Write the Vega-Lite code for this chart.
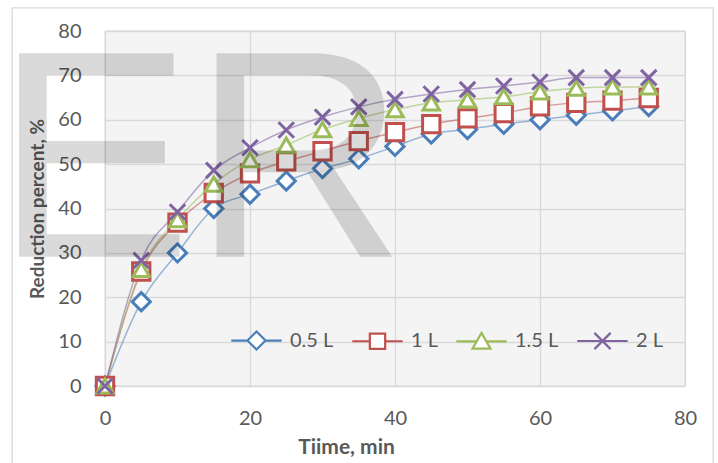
{
  "$schema": "https://vega.github.io/schema/vega-lite/v6.json",
  "width": 580,
  "height": 355,
  "autosize": "none",
  "padding": {"left": 105, "top": 31, "right": 33, "bottom": 77},
  "background": "white",
  "config": {
    "font": "Lato",
    "view": {"fill": "#f4f4f4", "stroke": "#d9d9d9", "strokeWidth": 1.3},
    "axis": {
      "domain": false,
      "ticks": false,
      "labelFlush": false,
      "gridColor": "#d9d9d9",
      "gridWidth": 1.3,
      "labelFont": "Lato",
      "labelFontSize": 20,
      "labelColor": "#595959",
      "titleFont": "Lato",
      "titleFontWeight": "bold",
      "titleColor": "#595959"
    },
    "legend": {
      "orient": "none",
      "direction": "horizontal",
      "legendX": 141,
      "legendY": 299,
      "labelFont": "Lato",
      "labelFontSize": 20,
      "labelColor": "#595959",
      "symbolSize": 324,
      "symbolStrokeWidth": 2.2,
      "symbolOpacity": 1,
      "labelOffset": 23,
      "columnPadding": 13,
      "padding": 0
    }
  },
  "data": {
    "values": [
      {"t": 0, "series": "0.5 L", "r": 0},
      {"t": 5, "series": "0.5 L", "r": 19},
      {"t": 10, "series": "0.5 L", "r": 30},
      {"t": 15, "series": "0.5 L", "r": 40},
      {"t": 20, "series": "0.5 L", "r": 43.2},
      {"t": 25, "series": "0.5 L", "r": 46.2},
      {"t": 30, "series": "0.5 L", "r": 49},
      {"t": 35, "series": "0.5 L", "r": 51.2},
      {"t": 40, "series": "0.5 L", "r": 54},
      {"t": 45, "series": "0.5 L", "r": 56.8},
      {"t": 50, "series": "0.5 L", "r": 57.8},
      {"t": 55, "series": "0.5 L", "r": 59},
      {"t": 60, "series": "0.5 L", "r": 60},
      {"t": 65, "series": "0.5 L", "r": 61},
      {"t": 70, "series": "0.5 L", "r": 62},
      {"t": 75, "series": "0.5 L", "r": 63},
      {"t": 0, "series": "1 L", "r": 0},
      {"t": 5, "series": "1 L", "r": 25.8},
      {"t": 10, "series": "1 L", "r": 36.8},
      {"t": 15, "series": "1 L", "r": 43.5},
      {"t": 20, "series": "1 L", "r": 47.9},
      {"t": 25, "series": "1 L", "r": 50.6},
      {"t": 30, "series": "1 L", "r": 52.9},
      {"t": 35, "series": "1 L", "r": 55.2},
      {"t": 40, "series": "1 L", "r": 57.2},
      {"t": 45, "series": "1 L", "r": 59},
      {"t": 50, "series": "1 L", "r": 60.3},
      {"t": 55, "series": "1 L", "r": 61.5},
      {"t": 60, "series": "1 L", "r": 63},
      {"t": 65, "series": "1 L", "r": 63.8},
      {"t": 70, "series": "1 L", "r": 64.3},
      {"t": 75, "series": "1 L", "r": 64.9},
      {"t": 0, "series": "1.5 L", "r": 0},
      {"t": 5, "series": "1.5 L", "r": 26.3},
      {"t": 10, "series": "1.5 L", "r": 37.5},
      {"t": 15, "series": "1.5 L", "r": 45.5},
      {"t": 20, "series": "1.5 L", "r": 51},
      {"t": 25, "series": "1.5 L", "r": 54.3},
      {"t": 30, "series": "1.5 L", "r": 57.8},
      {"t": 35, "series": "1.5 L", "r": 60.3},
      {"t": 40, "series": "1.5 L", "r": 62.3},
      {"t": 45, "series": "1.5 L", "r": 63.8},
      {"t": 50, "series": "1.5 L", "r": 64.5},
      {"t": 55, "series": "1.5 L", "r": 65.2},
      {"t": 60, "series": "1.5 L", "r": 66.3},
      {"t": 65, "series": "1.5 L", "r": 67.1},
      {"t": 70, "series": "1.5 L", "r": 67.4},
      {"t": 75, "series": "1.5 L", "r": 67.4},
      {"t": 0, "series": "2 L", "r": 0},
      {"t": 5, "series": "2 L", "r": 28.3},
      {"t": 10, "series": "2 L", "r": 39.2},
      {"t": 15, "series": "2 L", "r": 48.6},
      {"t": 20, "series": "2 L", "r": 53.7},
      {"t": 25, "series": "2 L", "r": 57.7},
      {"t": 30, "series": "2 L", "r": 60.6},
      {"t": 35, "series": "2 L", "r": 62.9},
      {"t": 40, "series": "2 L", "r": 64.6},
      {"t": 45, "series": "2 L", "r": 65.8},
      {"t": 50, "series": "2 L", "r": 66.8},
      {"t": 55, "series": "2 L", "r": 67.6},
      {"t": 60, "series": "2 L", "r": 68.5},
      {"t": 65, "series": "2 L", "r": 69.5},
      {"t": 70, "series": "2 L", "r": 69.5},
      {"t": 75, "series": "2 L", "r": 69.5}
    ]
  },
  "layer": [
    {
      "mark": {"type": "line", "interpolate": "monotone", "strokeWidth": 1.5, "opacity": 0.55},
      "encoding": {
        "x": {"field": "t", "type": "quantitative", "scale": {"domain": [0, 80], "nice": false, "zero": false},
              "axis": {"values": [0, 20, 40, 60, 80], "title": "Tiime, min", "titleFontSize": 21, "labelPadding": 22, "titlePadding": 8, "titleX": 241}},
        "y": {"field": "r", "type": "quantitative", "scale": {"domain": [0, 80], "nice": false, "zero": false},
              "axis": {"values": [0, 10, 20, 30, 40, 50, 60, 70, 80], "title": "Reduction percent, %", "titleFontSize": 19, "labelPadding": 24, "titlePadding": 10}},
        "color": {"field": "series", "type": "nominal", "legend": null,
                  "scale": {"domain": ["0.5 L", "1 L", "1.5 L", "2 L"], "range": ["#4a7ebb", "#c0504d", "#9bbb59", "#8064a2"]}},
        "detail": {"field": "series"}
      }
    },
    {
      "mark": {"type": "point", "filled": false, "fill": "white", "strokeWidth": 3, "opacity": 1},
      "encoding": {
        "x": {"field": "t", "type": "quantitative",
              "axis": {"values": [0, 20, 40, 60, 80], "title": "Tiime, min", "titleFontSize": 21, "labelPadding": 22, "titlePadding": 8, "titleX": 241}},
        "y": {"field": "r", "type": "quantitative",
              "axis": {"values": [0, 10, 20, 30, 40, 50, 60, 70, 80], "title": "Reduction percent, %", "titleFontSize": 19, "labelPadding": 24, "titlePadding": 10}},
        "color": {"field": "series", "type": "nominal", "legend": null,
                  "scale": {"domain": ["0.5 L", "1 L", "1.5 L", "2 L"], "range": ["#4a7ebb", "#c0504d", "#9bbb59", "#8064a2"]}},
        "shape": {"field": "series", "type": "nominal", "legend": null,
                  "scale": {"domain": ["0.5 L", "1 L", "1.5 L", "2 L"], "range": ["diamond", "square", "triangle-up", "M-1,-1L1,1M-1,1L1,-1"]}},
        "size": {"field": "series", "type": "nominal", "legend": null,
                 "scale": {"domain": ["0.5 L", "1 L", "1.5 L", "2 L"], "range": [330, 240, 230, 300]}}
      }
    },
    {
      "transform": [{"filter": "datum.t < 0"}],
      "mark": {"type": "point", "filled": false, "fill": "white", "strokeWidth": 2.2},
      "encoding": {
        "x": {"field": "t", "type": "quantitative",
              "axis": {"values": [0, 20, 40, 60, 80], "title": "Tiime, min", "titleFontSize": 21, "labelPadding": 22, "titlePadding": 8, "titleX": 241}},
        "y": {"field": "r", "type": "quantitative",
              "axis": {"values": [0, 10, 20, 30, 40, 50, 60, 70, 80], "title": "Reduction percent, %", "titleFontSize": 19, "labelPadding": 24, "titlePadding": 10}},
        "color": {"field": "series", "type": "nominal", "title": null,
                  "scale": {"domain": ["0.5 L", "1 L", "1.5 L", "2 L"], "range": ["#4a7ebb", "#c0504d", "#9bbb59", "#8064a2"]}},
        "shape": {"field": "series", "type": "nominal", "title": null,
                  "scale": {"domain": ["0.5 L", "1 L", "1.5 L", "2 L"],
                            "range": ["M-2.8,0H-1M1,0H2.8M0,-1L1,0L0,1L-1,0Z",
                                      "M-2.8,0H-0.85M0.85,0H2.8M-0.85,-0.85H0.85V0.85H-0.85Z",
                                      "M-2.8,0H-0.55M0.55,0H2.8M0,-0.95L1,0.8H-1Z",
                                      "M-2.8,0H2.8M-0.9,-0.9L0.9,0.9M-0.9,0.9L0.9,-0.9"]}}
      }
    },
    {
      "data": {"values": [{"w": "ER"}]},
      "mark": {"type": "text", "font": "Liberation Sans", "fontSize": 296, "align": "left", "baseline": "alphabetic", "fill": "#000000", "opacity": 0.14},
      "encoding": {
        "x": {"datum": -15.2, "type": "quantitative",
              "axis": {"values": [0, 20, 40, 60, 80], "title": "Tiime, min", "titleFontSize": 21, "labelPadding": 22, "titlePadding": 8, "titleX": 241}},
        "y": {"datum": 29.1, "type": "quantitative",
              "axis": {"values": [0, 10, 20, 30, 40, 50, 60, 70, 80], "title": "Reduction percent, %", "titleFontSize": 19, "labelPadding": 24, "titlePadding": 10}},
        "text": {"field": "w"}
      }
    },
    {
      "data": {"values": [{"b": 1}]},
      "mark": {"type": "rect", "fill": null, "fillOpacity": 0, "stroke": "#d9d9d9", "strokeWidth": 1.3},
      "encoding": {
        "x": {"datum": -12.8, "type": "quantitative",
              "axis": {"values": [0, 20, 40, 60, 80], "title": "Tiime, min", "titleFontSize": 21, "labelPadding": 22, "titlePadding": 8, "titleX": 241}},
        "x2": {"datum": 83.9},
        "y": {"datum": 85.2, "type": "quantitative",
              "axis": {"values": [0, 10, 20, 30, 40, 50, 60, 70, 80], "title": "Reduction percent, %", "titleFontSize": 19, "labelPadding": 24, "titlePadding": 10}},
        "y2": {"datum": -25}
      }
    }
  ],
  "resolve": {"scale": {"color": "independent", "shape": "independent", "size": "independent"}}
}
